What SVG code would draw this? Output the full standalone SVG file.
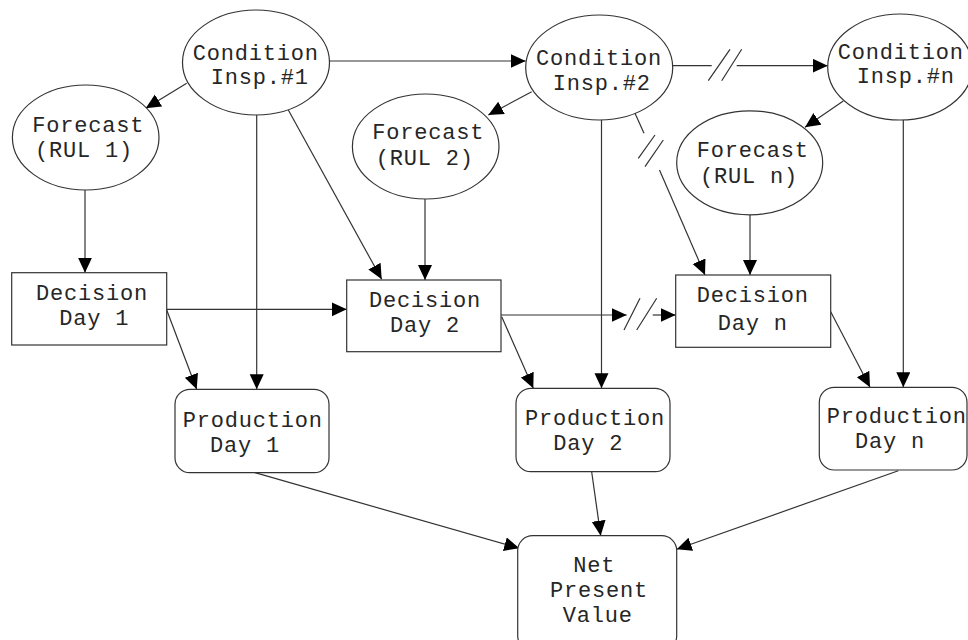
<svg xmlns="http://www.w3.org/2000/svg" width="968" height="640" viewBox="0 0 968 640">
  <style>
    .shape { fill: #ffffff; stroke: #333333; stroke-width: 1.2; }
    .label { font-family: "Liberation Mono", "Courier New", monospace; font-size: 22px; letter-spacing: 0.8px; fill: #262626; }
    .edge { fill: none; stroke: #333333; stroke-width: 1.2; }
    .arrow { fill: none; stroke: #333333; stroke-width: 1.2; marker-end: url(#head); }
  </style>
  <defs>
    <marker id="head" markerUnits="userSpaceOnUse" markerWidth="16" markerHeight="15" refX="15" refY="7" orient="auto">
      <path d="M0,0 L15,7 L0,14 z" fill="#000000"/>
    </marker>
  </defs>
  <rect width="968" height="640" fill="#ffffff"/>

  <!-- connectors -->
  <g id="connectors">
    <path class="arrow" d="M329.3,61 L525.7,61"/>
    <path class="arrow" d="M186.7,83.3 L145.7,108.3"/>
    <path class="arrow" d="M256.7,115 L256.7,389.3"/>
    <path class="arrow" d="M288.3,110 L381.7,279.3"/>
    <path class="arrow" d="M85,190 L85,272.7"/>
    <path class="arrow" d="M166.7,309.3 L346.7,309.3"/>
    <path class="arrow" d="M166.7,310 L196.7,389.3"/>
    <path class="arrow" d="M531.7,91.7 L488.3,115"/>
    <path class="arrow" d="M425,199 L425,280"/>
    <path class="arrow" d="M601.5,120 L601.5,388.3"/>
    <!-- Insp.#2 to Insp.#n, broken -->
    <path class="edge" d="M672.7,65.7 L711.7,65.7"/>
    <path class="arrow" d="M736.7,65.7 L827.7,65.7"/>
    <path class="edge" d="M708.3,80.7 L730,49.3 M721.7,80.7 L741.7,49.3"/>
    <!-- Insp.#2 to Decision n, broken -->
    <path class="edge" d="M635,113.3 L644,133.3"/>
    <path class="arrow" d="M659.5,170 L705,275"/>
    <path class="edge" d="M638.3,158.3 L655,135 M645,166.7 L663.3,140"/>
    <!-- Decision 2 to Decision n, broken -->
    <path class="arrow" d="M501,315 L626.7,315"/>
    <path class="edge" d="M624,330 L640,298.3 M636.7,330 L656.7,298.3"/>
    <path class="arrow" d="M652.7,315 L675.7,315"/>
    <path class="arrow" d="M501.7,316.7 L533.3,388.3"/>
    <path class="arrow" d="M843.3,101 L805,127.3"/>
    <path class="arrow" d="M750,215 L750,275"/>
    <path class="arrow" d="M903.3,120 L903.3,387.3"/>
    <path class="arrow" d="M830.7,311.7 L870,387.3"/>
    <path class="arrow" d="M255,472.7 L519.3,548.3"/>
    <path class="arrow" d="M591.7,472 L600.7,535.7"/>
    <path class="arrow" d="M898.3,470.7 L676.7,549.3"/>
  </g>

  <!-- inspections -->
  <g id="insp1">
    <ellipse class="shape" cx="256" cy="62.5" rx="73.5" ry="52.5"/>
    <text class="label" x="192.7" y="59.5">Condition</text>
    <text class="label" x="210.7" y="84">Insp.#1</text>
  </g>
  <g id="insp2">
    <ellipse class="shape" cx="599.2" cy="67.5" rx="73.5" ry="52.5"/>
    <text class="label" x="536" y="65">Condition</text>
    <text class="label" x="552.7" y="89.5">Insp.#2</text>
  </g>
  <g id="inspn">
    <ellipse class="shape" cx="900" cy="67" rx="72.3" ry="53"/>
    <text class="label" x="837.7" y="58.5">Condition</text>
    <text class="label" x="856.7" y="83">Insp.#n</text>
  </g>

  <!-- forecasts -->
  <g id="forecast1">
    <ellipse class="shape" cx="85.7" cy="137.5" rx="73.3" ry="52.5"/>
    <text class="label" x="32.3" y="131.7">Forecast</text>
    <text class="label" x="35" y="157.3">(RUL 1)</text>
  </g>
  <g id="forecast2">
    <ellipse class="shape" cx="425.7" cy="146.5" rx="73.3" ry="52.5"/>
    <text class="label" x="372.3" y="139.3">Forecast</text>
    <text class="label" x="375.7" y="165">(RUL 2)</text>
  </g>
  <g id="forecastn">
    <ellipse class="shape" cx="749.7" cy="162.8" rx="73" ry="52"/>
    <text class="label" x="696.7" y="156.7">Forecast</text>
    <text class="label" x="700" y="183.3">(RUL n)</text>
  </g>

  <!-- decisions -->
  <g id="decision1">
    <rect class="shape" x="11.7" y="272.7" width="155" height="72.3"/>
    <text class="label" x="36" y="300">Decision</text>
    <text class="label" x="59.3" y="325">Day 1</text>
  </g>
  <g id="decision2">
    <rect class="shape" x="346.7" y="280" width="154.3" height="71.7"/>
    <text class="label" x="369" y="306.7">Decision</text>
    <text class="label" x="390" y="331.7">Day 2</text>
  </g>
  <g id="decisionn">
    <rect class="shape" x="675.7" y="275" width="155" height="72.3"/>
    <text class="label" x="696.7" y="302.3">Decision</text>
    <text class="label" x="717.7" y="330">Day n</text>
  </g>

  <!-- production -->
  <g id="production1">
    <rect class="shape" x="175" y="389.3" width="154" height="83.4" rx="15" ry="15"/>
    <text class="label" x="182.7" y="426.7">Production</text>
    <text class="label" x="210" y="451.7">Day 1</text>
  </g>
  <g id="production2">
    <rect class="shape" x="516" y="388.3" width="154" height="83.4" rx="15" ry="15"/>
    <text class="label" x="525" y="425">Production</text>
    <text class="label" x="553.3" y="450">Day 2</text>
  </g>
  <g id="productionn">
    <rect class="shape" x="819.3" y="387.3" width="147.7" height="82.7" rx="15" ry="15"/>
    <text class="label" x="826.7" y="423.3">Production</text>
    <text class="label" x="855" y="448.3">Day n</text>
  </g>

  <!-- outcome -->
  <g id="npv">
    <rect class="shape" x="517.7" y="535.7" width="159" height="115" rx="15" ry="15"/>
    <text class="label" x="573.3" y="572.3">Net</text>
    <text class="label" x="550" y="596.7">Present</text>
    <text class="label" x="562.7" y="621.7">Value</text>
  </g>
</svg>
